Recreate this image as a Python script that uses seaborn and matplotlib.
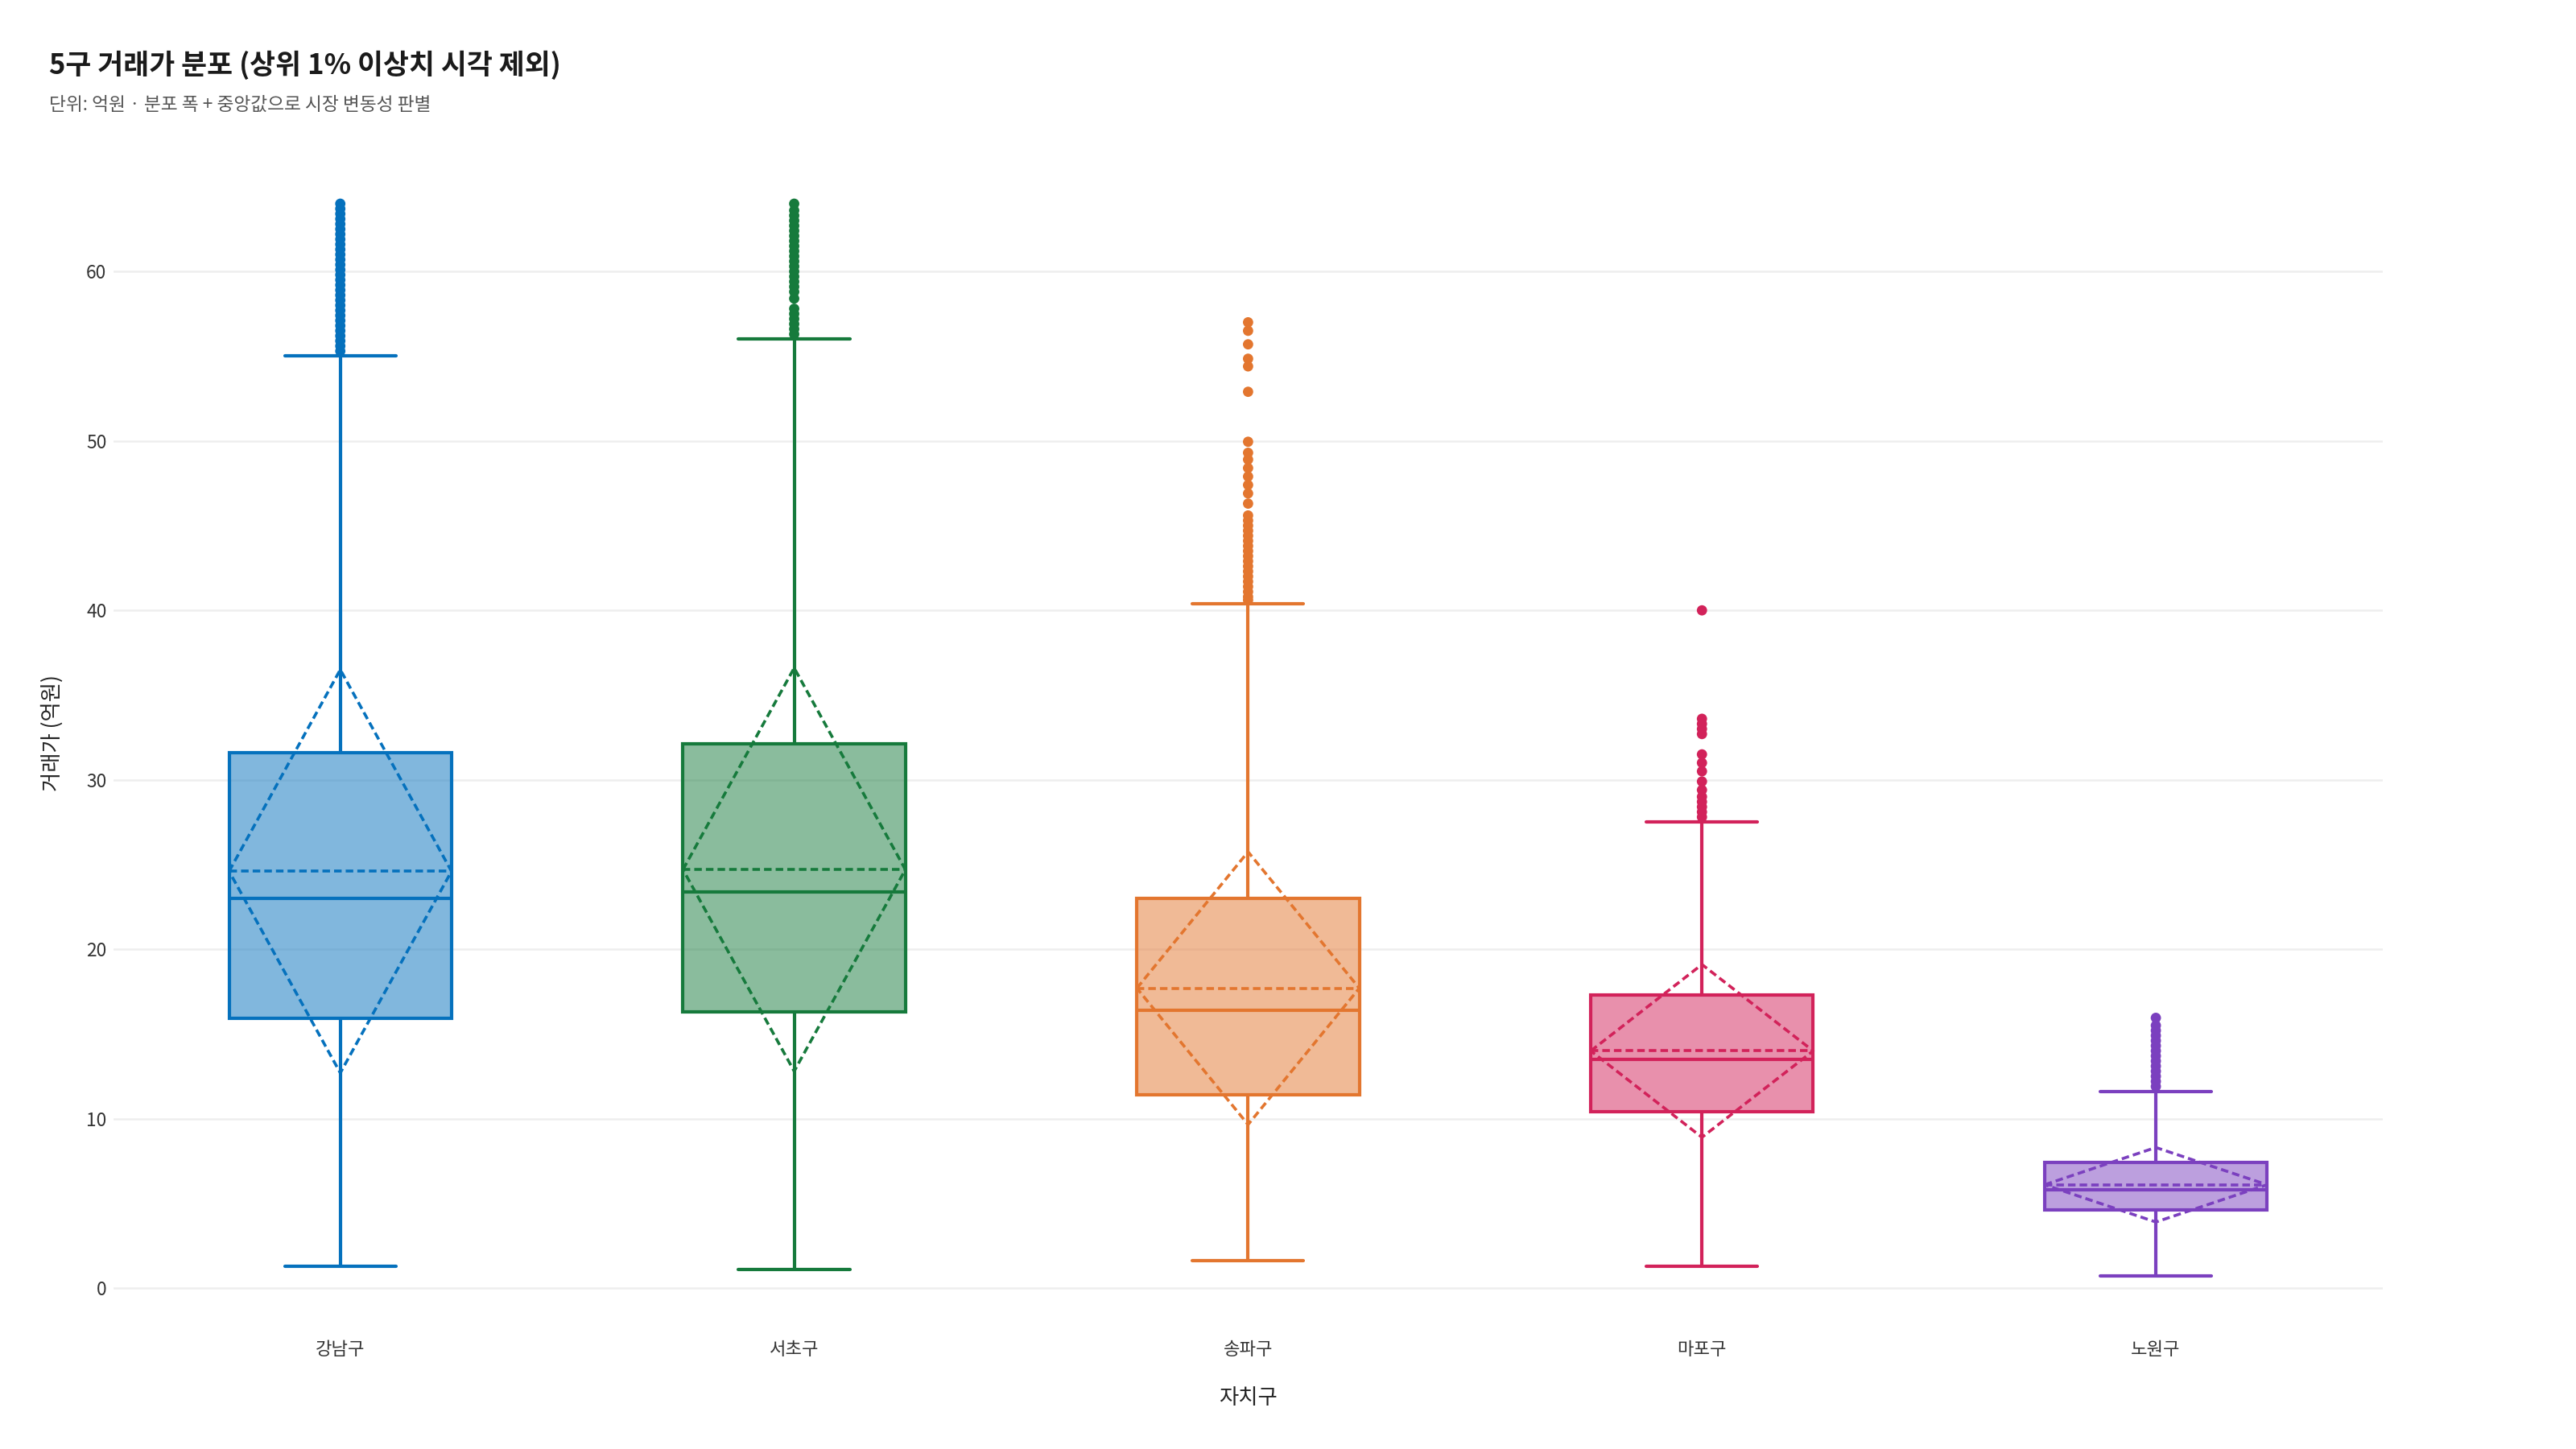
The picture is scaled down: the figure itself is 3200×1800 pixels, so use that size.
import numpy as np
import pandas as pd
import matplotlib
matplotlib.use("Agg")
import matplotlib.pyplot as plt
import seaborn as sns

districts = ["강남구", "서초구", "송파구", "마포구", "노원구"]
colors = ["#0571BD", "#167A3C", "#E3762F", "#D2225A", "#7B40BF"]

whislo = [1.3, 1.1, 1.6, 1.3, 0.7]
q1 = [15.9, 16.3, 11.4, 10.4, 4.6]
median = [23.0, 23.4, 16.4, 13.5, 5.8]
q3 = [31.6, 32.1, 23.0, 17.3, 7.4]
whishi = [55.0, 56.0, 40.4, 27.5, 11.6]
mean = [24.6, 24.7, 17.7, 14.0, 6.1]
sd = [11.9, 11.9, 8.05, 5.1, 2.2]

out_gangnam = [55.3, 55.6, 55.9, 56.2, 56.5, 56.8, 57.1, 57.4, 57.7, 58.0, 58.3, 58.6,
               58.9, 59.2, 59.5, 59.8, 60.1, 60.4, 60.7, 61.0, 61.3, 61.6, 61.9, 62.2,
               62.5, 62.8, 63.1, 63.4, 63.7, 64.0]
out_seocho = [56.3, 56.6, 56.9, 57.2, 57.5, 57.8, 58.4, 58.8, 59.1, 59.4, 59.7, 60.0,
              60.3, 60.6, 60.9, 61.2, 61.5, 61.8, 62.1, 62.4, 62.7, 63.0, 63.3, 63.6, 64.0]
out_songpa = [40.6, 40.8, 41.1, 41.4, 41.7, 42.0, 42.3, 42.6, 42.9, 43.2, 43.5, 43.8,
              44.1, 44.4, 44.7, 45.0, 45.3, 45.6, 46.3, 46.9, 47.4, 47.9, 48.4, 48.9,
              49.3, 49.95, 52.9, 54.4, 54.85, 55.7, 56.5, 57.0]
out_mapo = [27.8, 28.1, 28.4, 28.7, 29.0, 29.4, 29.9, 30.5, 31.0, 31.5, 32.7, 33.0,
            33.3, 33.6, 40.0]
out_nowon = [11.9, 12.2, 12.5, 12.8, 13.1, 13.4, 13.7, 14.0, 14.3, 14.6, 14.9, 15.2,
             15.5, 15.95]
outliers = [out_gangnam, out_seocho, out_songpa, out_mapo, out_nowon]

title = "5구 거래가 분포 (상위 1% 이상치 시각 제외)"
subtitle = "단위: 억원 · 분포 폭 + 중앙값으로 시장 변동성 판별"
xlabel = "자치구"
ylabel = "거래가 (억원)"
yticks = [0, 10, 20, 30, 40, 50, 60]

sns.set_theme(style="white")
plt.rcParams["font.family"] = ["Noto Sans CJK KR", "DejaVu Sans"]

fig = plt.figure(figsize=(16, 9), dpi=200)
ax = fig.add_axes([0.044, 0.0935, 0.881, 0.801])

ax.yaxis.grid(True, color="#EEEEEE", linewidth=0.9)
ax.set_axisbelow(True)

# outliers via seaborn
odf = pd.DataFrame({
    "district": [d for d, o in zip(districts, outliers) for _ in o],
    "price": [v for o in outliers for v in o],
})
sns.stripplot(data=odf, x="district", y="price", hue="district", order=districts,
              hue_order=districts, palette=colors, jitter=False, size=4.6,
              linewidth=0, legend=False, ax=ax, zorder=3)

bw = 0.49
for i, d in enumerate(districts):
    c = colors[i]
    stats = [dict(med=median[i], q1=q1[i], q3=q3[i], whislo=whislo[i],
                  whishi=whishi[i], fliers=[], mean=mean[i], label=d)]
    ax.bxp(stats, positions=[i], widths=bw, patch_artist=True, showfliers=False,
           showmeans=False, manage_ticks=False,
           boxprops=dict(facecolor=matplotlib.colors.to_rgba(c, 0.5), edgecolor=c, linewidth=1.5),
           medianprops=dict(color=c, linewidth=1.5),
           whiskerprops=dict(color=c, linewidth=1.5),
           capprops=dict(color=c, linewidth=1.5),
           capwidths=bw * 0.5, zorder=4)
    hw = bw / 2
    ax.plot([i - hw, i, i + hw, i, i - hw],
            [mean[i], mean[i] + sd[i], mean[i], mean[i] - sd[i], mean[i]],
            color=c, linewidth=1.3, linestyle=(0, (2.6, 1.4)), zorder=5)
    ax.plot([i - hw, i + hw], [mean[i], mean[i]], color=c, linewidth=1.3,
            linestyle=(0, (2.6, 1.4)), zorder=5)

ax.set_xlim(-0.5, 4.5)
ax.set_ylim(-1.5, 67)
ax.set_xticks(range(len(districts)))
ax.set_xticklabels(districts)
ax.set_yticks(yticks)
ax.set_yticklabels([str(t) for t in yticks])
ax.tick_params(axis="x", length=0, pad=12, labelsize=8, labelcolor="#333333")
ax.tick_params(axis="y", length=0, pad=3, labelsize=8.2, labelcolor="#333333")
for s in ax.spines.values():
    s.set_visible(False)

ax.set_xlabel(xlabel, fontsize=9.5, color="#222222")
ax.set_ylabel(ylabel, fontsize=9.5, color="#222222")
ax.xaxis.set_label_coords(0.5, -0.063)
ax.yaxis.set_label_coords(-0.022, 0.5)

fig.text(0.019, 0.949, title, fontsize=12.5, fontweight="bold", color="#1A1A1A")
fig.text(0.019, 0.924, subtitle, fontsize=8.2, color="#555555")

fig.savefig("out.png", dpi=200, facecolor="white")
